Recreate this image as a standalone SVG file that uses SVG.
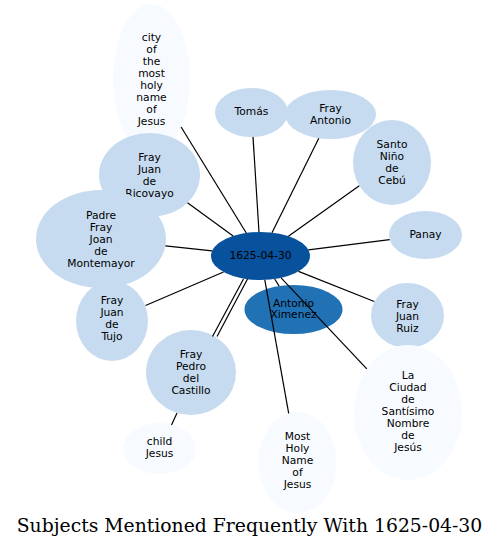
<svg xmlns="http://www.w3.org/2000/svg" width="499" height="548" viewBox="0 0 499 548">
<style>
.n text{font-family:"DejaVu Sans","Liberation Sans",sans-serif;font-size:10.7px;fill:#000;text-anchor:middle}
.l{fill:#c6dbef}
.p{fill:#f7fbff}
.e line{stroke:#000;stroke-width:1.2}
.t{font-family:"DejaVu Serif","Liberation Serif",serif;font-size:18.8px;fill:#000;text-anchor:middle}
</style>
<rect width="499" height="548" fill="#fff"/>
<g class="n">
<g id="n-center"><ellipse cx="260.5" cy="256" rx="49.5" ry="24" fill="#08519c"/><text x="260.5" y="258.5">1625-04-30</text></g>
<g id="n-city"><ellipse class="p" cx="151.5" cy="79" rx="38.5" ry="75"/><text x="151.5" y="41">city</text><text x="151.5" y="53">of</text><text x="151.5" y="65">the</text><text x="151.5" y="77">most</text><text x="151.5" y="89">holy</text><text x="151.5" y="101">name</text><text x="151.5" y="113">of</text><text x="151.5" y="125">Jesus</text></g>
<g id="n-ricovayo"><ellipse class="l" cx="149.5" cy="175" rx="50.5" ry="42"/><text x="149.5" y="161">Fray</text><text x="149.5" y="173">Juan</text><text x="149.5" y="185">de</text><text x="149.5" y="197">Ricovayo</text></g>
<g id="n-montemayor"><ellipse class="l" cx="101" cy="239" rx="65" ry="49"/><text x="101" y="219">Padre</text><text x="101" y="231">Fray</text><text x="101" y="243">Joan</text><text x="101" y="255">de</text><text x="101" y="267">Montemayor</text></g>
<g id="n-tujo"><ellipse class="l" cx="112" cy="321" rx="36" ry="40"/><text x="112" y="304">Fray</text><text x="112" y="316">Juan</text><text x="112" y="328">de</text><text x="112" y="340">Tujo</text></g>
<g id="n-castillo"><ellipse class="l" cx="191" cy="372.5" rx="45" ry="42.5"/><text x="191" y="357.5">Fray</text><text x="191" y="369.5">Pedro</text><text x="191" y="381.5">del</text><text x="191" y="393.5">Castillo</text></g>
<g id="n-child"><ellipse class="p" cx="159.5" cy="448.5" rx="36.5" ry="25.5"/><text x="159.5" y="445">child</text><text x="159.5" y="457">Jesus</text></g>
<g id="n-mostholy"><ellipse class="p" cx="297.5" cy="462.5" rx="39" ry="50.5"/><text x="297.5" y="440">Most</text><text x="297.5" y="452">Holy</text><text x="297.5" y="464">Name</text><text x="297.5" y="476">of</text><text x="297.5" y="488">Jesus</text></g>
<g id="n-ruiz"><ellipse class="l" cx="407.5" cy="315.5" rx="36.5" ry="32.5"/><text x="407.5" y="307.5">Fray</text><text x="407.5" y="319.5">Juan</text><text x="407.5" y="331.5">Ruiz</text></g>
<g id="n-ciudad"><ellipse class="p" cx="408" cy="412.5" rx="54" ry="67.5"/><text x="408" y="379">La</text><text x="408" y="391">Ciudad</text><text x="408" y="403">de</text><text x="408" y="415">Santísimo</text><text x="408" y="427">Nombre</text><text x="408" y="439">de</text><text x="408" y="451">Jesús</text></g>
<g id="n-panay"><ellipse class="l" cx="425.5" cy="235" rx="36.5" ry="24"/><text x="425.5" y="237.5">Panay</text></g>
<g id="n-santonino"><ellipse class="l" cx="392" cy="162.5" rx="39" ry="42.5"/><text x="392" y="147.5">Santo</text><text x="392" y="159.5">Niño</text><text x="392" y="171.5">de</text><text x="392" y="183.5">Cebú</text></g>
<g id="n-tomas"><ellipse class="l" cx="251.5" cy="112.5" rx="36.5" ry="24.5"/><text x="251.5" y="115">Tomás</text></g>
<g id="n-frayantonio"><ellipse class="l" cx="330.5" cy="114.5" rx="45.5" ry="24.5"/><text x="330.5" y="111.7">Fray</text><text x="330.5" y="123.5">Antonio</text></g>
<g id="n-ximenez"><ellipse cx="293.5" cy="309.5" rx="49" ry="24.5" fill="#2171b5"/><text x="293.5" y="306.5">Antonio</text><text x="293.5" y="318">Ximenez</text></g>
</g>
<g id="edges" class="e">
<line x1="181.1" y1="127" x2="246.3" y2="233"/>
<line x1="187.5" y1="202.7" x2="233.1" y2="236"/>
<line x1="165.4" y1="245.9" x2="212.1" y2="250.8"/>
<line x1="145.6" y1="305.5" x2="223.5" y2="272"/>
<line x1="243.5" y1="279" x2="212.5" y2="336.5"/>
<line x1="247.5" y1="279" x2="217" y2="336.5"/>
<line x1="177" y1="413" x2="171.5" y2="425"/>
<line x1="264.8" y1="279.9" x2="288.7" y2="413.3"/>
<line x1="281.1" y1="277.8" x2="366.8" y2="368.8"/>
<line x1="274.7" y1="279" x2="279.1" y2="286.1"/>
<line x1="298.5" y1="271.4" x2="374.3" y2="301.5"/>
<line x1="308.4" y1="249.9" x2="389.7" y2="239.6"/>
<line x1="288.4" y1="236.2" x2="359.3" y2="185.7"/>
<line x1="259" y1="232" x2="253" y2="137"/>
<line x1="272" y1="232.7" x2="318.8" y2="138.2"/>
</g>
<text class="t" x="249.5" y="532">Subjects Mentioned Frequently With 1625-04-30</text>
</svg>
